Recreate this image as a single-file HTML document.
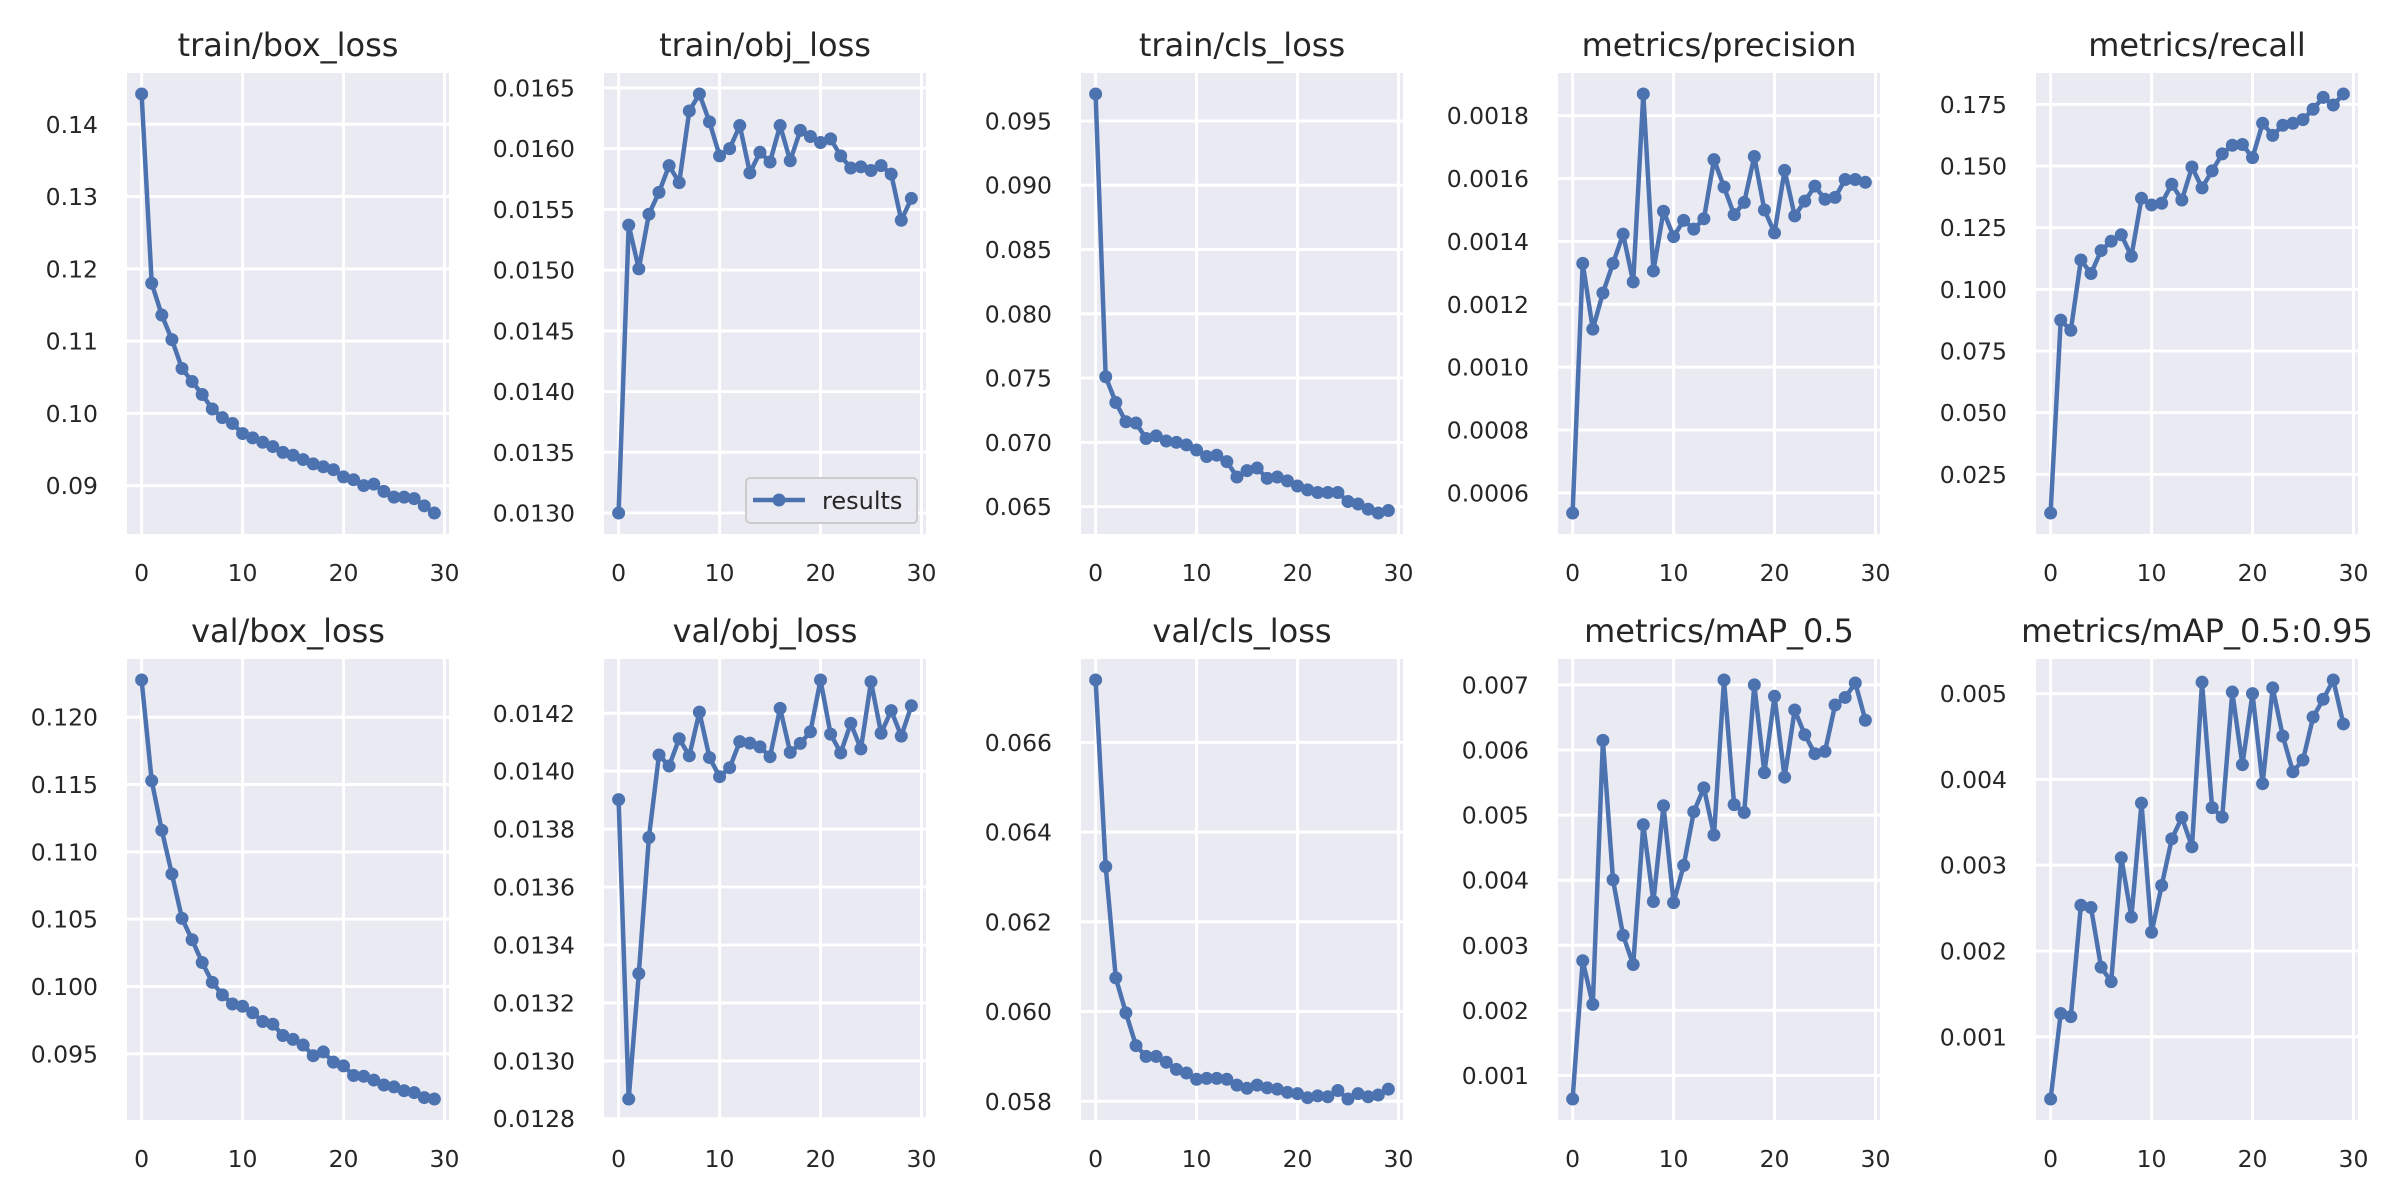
<!DOCTYPE html>
<html><head><meta charset="utf-8"><style>
html,body{margin:0;padding:0;background:#fff;}
svg{display:block;font-family:"DejaVu Sans","Liberation Sans",sans-serif;}
</style></head><body>
<svg id="fig" width="2400" height="1200" viewBox="0 0 2400 1200" xmlns="http://www.w3.org/2000/svg"></svg>
<script>
const epochs = [0,1,2,3,4,5,6,7,8,9,10,11,12,13,14,15,16,17,18,19,20,21,22,23,24,25,26,27,28,29];
const xTicks = [0,10,20,30];
const titles = ["train/box_loss","train/obj_loss","train/cls_loss","metrics/precision","metrics/recall","val/box_loss","val/obj_loss","val/cls_loss","metrics/mAP_0.5","metrics/mAP_0.5:0.95"];
const trainBox = [0.1442,0.118,0.1136,0.1102,0.1062,0.1044,0.1026,0.1006,0.0994,0.0986,0.0972,0.0966,0.0960,0.0954,0.0946,0.0942,0.0936,0.0930,0.0926,0.0922,0.0912,0.0908,0.0900,0.0902,0.0892,0.0884,0.0884,0.0882,0.0872,0.0862];
const trainObj = [0.0130,0.01537,0.01501,0.01546,0.01564,0.01586,0.01572,0.01631,0.01645,0.01622,0.01594,0.01600,0.01619,0.01580,0.01597,0.01589,0.01619,0.01590,0.01615,0.01610,0.01605,0.01608,0.01594,0.01584,0.01585,0.01582,0.01586,0.01579,0.01541,0.01559];
const trainCls = [0.0971,0.0751,0.0731,0.0716,0.0715,0.0703,0.0705,0.0701,0.0700,0.0698,0.0694,0.0689,0.0690,0.0685,0.0673,0.0678,0.0680,0.0672,0.0673,0.0670,0.0666,0.0663,0.0661,0.0661,0.0661,0.0654,0.0652,0.0648,0.0645,0.0647];
const precision = [0.000536,0.00133,0.001121,0.001236,0.00133,0.001423,0.001271,0.001869,0.001306,0.001496,0.001415,0.001467,0.001439,0.001472,0.00166,0.001573,0.001485,0.001524,0.00167,0.0015,0.001427,0.001626,0.001481,0.001528,0.001576,0.001534,0.00154,0.001597,0.001597,0.001588];
const recall = [0.0093,0.0875,0.0834,0.1119,0.1064,0.1157,0.1195,0.1221,0.1134,0.1369,0.1342,0.1349,0.1426,0.1362,0.1496,0.1411,0.1480,0.1549,0.1584,0.1587,0.1534,0.1673,0.1624,0.1665,0.1673,0.1688,0.1730,0.1778,0.1747,0.1792];
const valBox = [0.12277,0.11528,0.1116,0.10836,0.10506,0.10347,0.10178,0.10031,0.09938,0.0987,0.09853,0.09805,0.0974,0.0972,0.09636,0.09607,0.09565,0.09486,0.09514,0.09438,0.0941,0.09339,0.09333,0.09305,0.09268,0.09254,0.09226,0.09212,0.09175,0.09164];
const valObj = [0.013902,0.012868,0.013301,0.013771,0.014056,0.014018,0.014112,0.014053,0.014204,0.014047,0.013981,0.014012,0.014102,0.014097,0.014084,0.01405,0.014217,0.014065,0.014096,0.014136,0.014315,0.014128,0.014063,0.014165,0.014077,0.014309,0.014131,0.014209,0.014121,0.014226];
const valCls = [0.06739,0.06323,0.06075,0.05997,0.05924,0.059,0.059,0.05887,0.05871,0.05863,0.05849,0.05851,0.05851,0.05849,0.05836,0.05829,0.05836,0.0583,0.05827,0.0582,0.05817,0.05808,0.05812,0.0581,0.05824,0.05805,0.05817,0.0581,0.05814,0.05827];
const map50 = [0.000638,0.002763,0.002092,0.006148,0.004006,0.003154,0.002704,0.004852,0.003673,0.005144,0.003655,0.004227,0.00505,0.005418,0.004694,0.007076,0.005161,0.005039,0.007,0.005652,0.006825,0.005582,0.006615,0.006235,0.005943,0.005978,0.006691,0.006807,0.007029,0.006457];
const map5095 = [0.000274,0.001271,0.001235,0.002533,0.002506,0.001811,0.001642,0.003086,0.002395,0.003724,0.002218,0.002763,0.003307,0.003556,0.003214,0.005133,0.003671,0.00356,0.005018,0.004172,0.005,0.00395,0.005066,0.004504,0.004088,0.004226,0.004726,0.004934,0.005159,0.004646];
const yTicks1 = [0.09,0.10,0.11,0.12,0.13,0.14];
const yTicks2 = [0.0130,0.0135,0.0140,0.0145,0.0150,0.0155,0.0160,0.0165];
const yTicks3 = [0.065,0.070,0.075,0.080,0.085,0.090,0.095];
const yTicks4 = [0.0006,0.0008,0.0010,0.0012,0.0014,0.0016,0.0018];
const yTicks5 = [0.025,0.050,0.075,0.100,0.125,0.150,0.175];
const yTicks6 = [0.095,0.100,0.105,0.110,0.115,0.120];
const yTicks7 = [0.0128,0.0130,0.0132,0.0134,0.0136,0.0138,0.0140,0.0142];
const yTicks8 = [0.058,0.060,0.062,0.064,0.066];
const yTicks9 = [0.001,0.002,0.003,0.004,0.005,0.006,0.007];
const yTicks10 = [0.001,0.002,0.003,0.004,0.005];
const tickDecimals = [2,4,3,4,3,3,4,3,3,3];

const series = [trainBox,trainObj,trainCls,precision,recall,valBox,valObj,valCls,map50,map5095];
const ticks = [yTicks1,yTicks2,yTicks3,yTicks4,yTicks5,yTicks6,yTicks7,yTicks8,yTicks9,yTicks10];
const NS = "http://www.w3.org/2000/svg";
const svg = document.getElementById("fig");
const LEFTS = [127,604,1081,1558,2036], TOPS = [73,659], W = 322, H = 461;
const COLOR = "#4c72b0";
function mk(tag, attrs, parent){const e=document.createElementNS(NS,tag);for(const k in attrs)e.setAttribute(k,attrs[k]);(parent||svg).appendChild(e);return e;}

for (let i=0;i<10;i++){
  const L = LEFTS[i%5], T = TOPS[Math.floor(i/5)];
  const data = series[i];
  const g = mk("g",{});
  
  
  const xmin = Math.min(...epochs), xmax = Math.max(...epochs), xr = xmax-xmin;
  const x0 = xmin-0.05*xr, x1 = xmax+0.05*xr;
  const ymn = Math.min(...data), ymx = Math.max(...data), yr = ymx-ymn;
  const y0 = ymn-0.05*yr, y1 = ymx+0.05*yr;
  const sx = v => L + (v-x0)/(x1-x0)*W;
  const sy = v => T + H - (v-y0)/(y1-y0)*H;
  const bg = mk("rect",{x:L,y:T,width:W,height:H,fill:"#eaeaf2"},g);
  
  
  for (const t of xTicks){
    const px = sx(t);
    const gl = mk("line",{x1:px,x2:px,y1:T,y2:T+H,stroke:"#fff","stroke-width":3},g);
    
    
    const tl = mk("text",{x:px,y:T+H+47,"text-anchor":"middle","font-size":23.5,fill:"#262626"},g);
    tl.textContent = String(t);
    
    
  }
  for (const t of ticks[i]){
    const py = sy(t);
    const gl = mk("line",{x1:L,x2:L+W,y1:py,y2:py,stroke:"#fff","stroke-width":3},g);
    
    
    const tl = mk("text",{x:L-29,y:py+8.5,"text-anchor":"end","font-size":23.5,fill:"#262626"},g);
    tl.textContent = t.toFixed(tickDecimals[i]);
    
    
  }
  const tt = mk("text",{x:L+W/2,y:T-17,"text-anchor":"middle","font-size":32,fill:"#262626"},g);
  tt.textContent = titles[i];
  
  
  const pts = data.map((v,k)=>sx(epochs[k]).toFixed(1)+","+sy(v).toFixed(1)).join(" ");
  const line = mk("polyline",{points:pts,fill:"none",stroke:COLOR,"stroke-width":4.5,"stroke-linejoin":"round"},g);
  
  
  data.forEach((v,k)=>{
    const c = mk("circle",{cx:sx(epochs[k]),cy:sy(v),r:6.5,fill:COLOR},g);
    
    
  });
  if (i===1){
    const lg = mk("g",{},g);
    
    
    mk("rect",{x:746,y:478,width:171,height:45,rx:4,fill:"#eaeaf2",stroke:"#cccccc","stroke-width":2},lg);
    mk("line",{x1:753,x2:805,y1:500,y2:500,stroke:COLOR,"stroke-width":4.5},lg);
    mk("circle",{cx:779,cy:500,r:6.5,fill:COLOR},lg);
    const lt = mk("text",{x:822,y:509,"font-size":24,fill:"#262626"},lg);
    lt.textContent = "results";
    
    
  }
}
</script>
</body></html>
